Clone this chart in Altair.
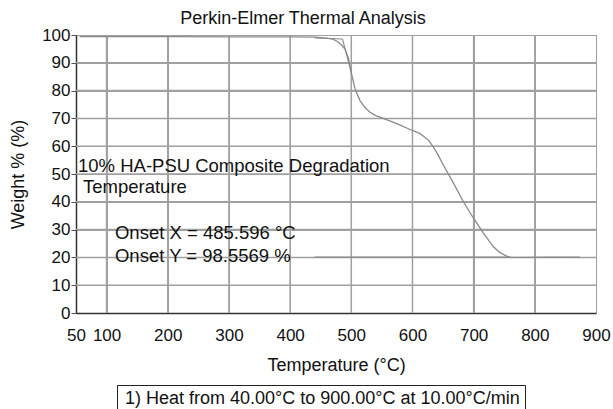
import altair as alt
import pandas as pd

# TGA curve (temperature °C, weight %)
temp = [56, 100, 200, 300, 400, 440, 460, 470, 478, 485, 490, 495, 501, 506, 514,
        522, 530, 540, 552, 565, 580, 596, 612, 626, 634, 642, 650, 667, 683, 700,
        716, 732, 742, 749, 755, 760, 780, 820, 874]
weight = [99.4, 99.4, 99.4, 99.35, 99.3, 99.2, 98.9, 98.5, 97.6, 96.2, 94.8, 91.8, 85.5, 80.7, 76.5,
          74.0, 72.3, 71.0, 70.0, 68.9, 67.6, 66.0, 64.6, 62.2, 59.8, 56.8, 53.4, 46.7, 40.1, 34.0,
          28.7, 23.9, 21.9, 21.0, 20.4, 20.1, 20.0, 20.05, 20.1]
run_label = "1) Heat from 40.00°C to 900.00°C at 10.00°C/min"

# onset construction lines
seg_id = ["base", "base", "steep", "steep", "residue", "residue"]
seg_t = [440, 485.596, 485.596, 500, 440, 760]
seg_w = [98.9, 98.5569, 98.5569, 86.5, 20.1, 20.1]

# annotations
ann_text = ["10% HA-PSU Composite Degradation", "Temperature",
            "Onset X = 485.596 °C", "Onset Y = 98.5569 %"]
ann_t = [53.3, 61.4, 113.7, 113.7]
ann_w = [53.0, 45.3, 28.9, 20.4]

x_ticks = [50, 100, 200, 300, 400, 500, 600, 700, 800, 900]
y_ticks = [0, 10, 20, 30, 40, 50, 60, 70, 80, 90, 100]
x_grid = [100, 200, 300, 400, 500, 600, 700, 800]
y_grid = [10, 20, 30, 40, 50, 60, 70, 80, 90]

FONT = "Liberation Sans"

curve_df = pd.DataFrame({"T": temp, "W": weight, "run": run_label})
seg_df = pd.DataFrame({"seg": seg_id, "T": seg_t, "W": seg_w})
ann_df = pd.DataFrame({"text": ann_text, "T": ann_t, "W": ann_w})
xg_df = pd.DataFrame({"T": x_grid})
yg_df = pd.DataFrame({"W": y_grid})

xs = alt.Scale(domain=[50, 900], nice=False, zero=False)
ys = alt.Scale(domain=[0, 100], nice=False)

x_axis = alt.Axis(values=x_ticks, title="Temperature (°C)", format="d",
                  tickSize=0, labelPadding=14, titleY=43, labelFlush=False,
                  labelOverlap=False)
y_axis = alt.Axis(values=y_ticks, title="Weight % (%)", format="d",
                  tickSize=5, labelPadding=1, labelOverlap=False,
                  titleX=-58, titleY=139, titleBaseline="middle")

GRID = "#a0a0a0"
xgrid = alt.Chart(xg_df).mark_rule(color=GRID, strokeWidth=1.5, opacity=1).encode(
    x=alt.X("T:Q", scale=xs, axis=x_axis))
ygrid = alt.Chart(yg_df).mark_rule(color=GRID, strokeWidth=1.5, opacity=1).encode(
    y=alt.Y("W:Q", scale=ys, axis=y_axis))

curve = alt.Chart(curve_df).mark_line(strokeWidth=1.3).encode(
    x=alt.X("T:Q", scale=xs, axis=x_axis),
    y=alt.Y("W:Q", scale=ys, axis=y_axis),
    color=alt.Color("run:N", scale=alt.Scale(range=["#8a8a8a"]),
                    legend=alt.Legend(title=None, orient="none", legendX=41, legendY=350,
                                      strokeColor="#222", padding=5, labelFontSize=18,
                                      labelFont=FONT, labelColor="#111", symbolSize=1,
                                      symbolOpacity=0, symbolStrokeWidth=0,
                                      labelOffset={"expr": "-15"}, labelLimit=1000)),
)

segs = alt.Chart(seg_df).mark_line(strokeWidth=1.1, color="#8a8a8a").encode(
    x=alt.X("T:Q", scale=xs, axis=x_axis),
    y=alt.Y("W:Q", scale=ys, axis=y_axis),
    detail="seg:N",
)

ann = alt.Chart(ann_df).mark_text(align="left", baseline="middle", fontSize=18.5,
                                  font=FONT, color="#111").encode(
    x=alt.X("T:Q", scale=xs, axis=x_axis),
    y=alt.Y("W:Q", scale=ys, axis=y_axis),
    text="text:N",
)

chart = alt.layer(xgrid, ygrid, curve, segs, ann).properties(
    width=520, height=278,
    title=alt.TitleParams("Perkin-Elmer Thermal Analysis", anchor="middle", dx=-33,
                          dy=6, fontSize=18, fontWeight="normal", font=FONT,
                          color="#111", offset=4),
    autosize=alt.AutoSizeParams(type="none"),
    padding={"left": 76, "top": 35, "right": 17, "bottom": 96},
    background="white",
).configure_view(stroke="#999999", strokeWidth=1).configure_axis(
    labelFont=FONT, titleFont=FONT, domainColor="#333333", domainWidth=1.5,
    tickColor="#555", labelFontSize=17, labelColor="#111", titleFontSize=18,
    titleFontWeight="normal", titleColor="#111", grid=True, gridColor=GRID,
    gridWidth=1, gridOpacity=1
)

chart.save("out.html", embed_options={"renderer": "svg", "actions": False})
